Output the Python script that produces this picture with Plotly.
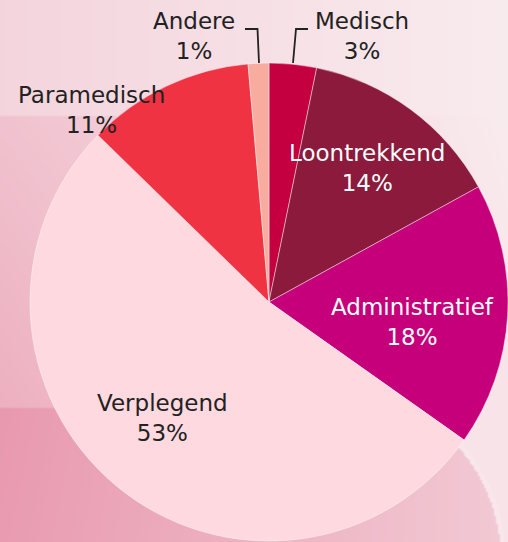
import base64, math, struct, zlib
import plotly.graph_objects as go

# ---- data ----
categories = ["Medisch", "Loontrekkend", "Administratief", "Verplegend", "Paramedisch", "Andere"]
shares = [3.2, 13.8, 17.8, 52.5, 11.3, 1.4]
pct_labels = ["3%", "14%", "18%", "53%", "11%", "1%"]

# ---- styles ----
colors = ["#C40041", "#8C1A3C", "#C6007A", "#FFD9E0", "#F03343", "#F8AC9F"]
label_colors = ["#222222", "#FFFFFF", "#FFFFFF", "#222222", "#222222", "#222222"]
W, H = 508, 542
# label anchor positions in pixels (x, y centre of two-line block)
label_pos = {
    "Medisch": (362, 36),
    "Loontrekkend": (367, 168),
    "Administratief": (412, 322),
    "Verplegend": (162, 418),
    "Paramedisch": (91, 110),
    "Andere": (194, 36),
}
leaders = [
    [(245, 29), (257.5, 29), (259, 63)],
    [(308, 29), (296, 29), (293, 63)],
]
FONT = "DejaVu Sans"
FSIZE = 23


# ---- background gradient image ----
def bg_value(x, y):
    s = x / W
    if y < 117:
        val = 0.28 * (1 - s) + 0.03 * s
    elif y < 408:
        left = 0.48 + 0.2 * (y - 117) / 291
        right = 0.03 + 0.09 * (y - 117) / 291
        val = left * (1 - s) + right * s
    else:
        val = (0.93 - 0.03 * (y - 408) / 134) * (1 - s) + 0.4 * s
    if x > 360 and y > 360:
        d = math.hypot(x - 330, y - 560)
        if d > 176:
            val = min(val, 0.12)
        elif d > 171:
            val = 0.06
    return val


def make_png(w, h, scale):
    light = (249, 238, 240)
    dark = (231, 146, 170)
    raw = bytearray()
    for j in range(h):
        raw.append(0)
        for i in range(w):
            v = bg_value((i + 0.5) * scale, (j + 0.5) * scale)
            for c in range(3):
                raw.append(int(round(light[c] + (dark[c] - light[c]) * v)))

    def chunk(t, d):
        c = struct.pack(">I", len(d)) + t + d
        return c + struct.pack(">I", zlib.crc32(t + d) & 0xFFFFFFFF)

    png = b"\x89PNG\r\n\x1a\n"
    png += chunk(b"IHDR", struct.pack(">IIBBBBB", w, h, 8, 2, 0, 0, 0))
    png += chunk(b"IDAT", zlib.compress(bytes(raw), 9))
    png += chunk(b"IEND", b"")
    return "data:image/png;base64," + base64.b64encode(png).decode()


bg_src = make_png(254, 271, 2)

fig = go.Figure(
    go.Pie(
        labels=categories,
        values=shares,
        sort=False,
        direction="clockwise",
        rotation=0,
        marker=dict(colors=colors, line=dict(color="rgba(255,255,255,0.55)", width=0.8)),
        textinfo="none",
        hoverinfo="skip",
        showlegend=False,
        domain=dict(x=[30 / W, 1], y=[0, 480 / H]),
    )
)

for cat, pct, col in zip(categories, pct_labels, label_colors):
    px, py = label_pos[cat]
    fig.add_annotation(
        x=px / W, y=1 - py / H, xref="paper", yref="paper",
        text=f"{cat}<br>{pct}", showarrow=False,
        font=dict(family=FONT, size=FSIZE, color=col),
        xanchor="center", yanchor="middle", align="center",
    )

for pts in leaders:
    path = "M " + " L ".join(f"{x / W:.5f},{1 - y / H:.5f}" for x, y in pts)
    fig.add_shape(type="path", path=path, xref="paper", yref="paper",
                  line=dict(color="#222222", width=1.8))

fig.update_layout(
    width=W, height=H,
    margin=dict(l=0, r=0, t=0, b=0),
    paper_bgcolor="#F4DDE2",
    plot_bgcolor="rgba(0,0,0,0)",
    images=[dict(source=bg_src, xref="paper", yref="paper", x=0, y=1,
                 sizex=1, sizey=1, sizing="stretch", xanchor="left",
                 yanchor="top", layer="below")],
)

fig.write_html(
    "out.html",
    config={"displayModeBar": False},
    post_script="document.body.style.margin='0';document.body.style.overflow='hidden';",
)
